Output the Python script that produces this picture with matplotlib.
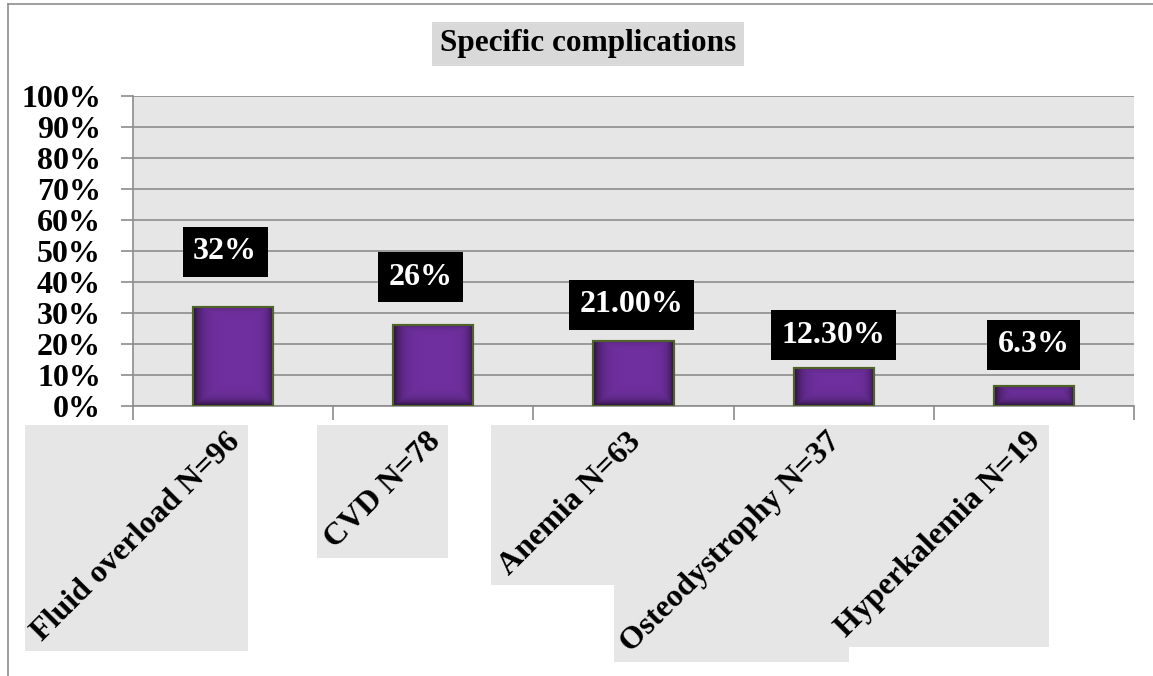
import matplotlib.pyplot as plt
import matplotlib.patches as mpatches
from matplotlib.lines import Line2D
import matplotlib.transforms as mtrans
import numpy as np

# Specific complications bar chart

categories = ['Fluid overload N=96', 'CVD N=78', 'Anemia N=63',
              'Osteodystrophy N=37', 'Hyperkalemia N=19']
values = [32, 26, 21.00, 12.30, 6.3]
value_labels = ['32%', '26%', '21.00%', '12.30%', '6.3%']
yticks = list(range(0, 101, 10))

# where the black value boxes sit (data units) -- style only
label_y = [49.7, 41.6, 32.6, 22.9, 19.7]
label_dx = [-0.04, -0.065, -0.01, 0.0, 0.0]

plt.rcParams['font.family'] = 'Liberation Serif'
plt.rcParams['font.weight'] = 'bold'
FS = 23

W, H = 1153, 676
fig = plt.figure(figsize=(W / 100, H / 100), dpi=100)
ax = fig.add_axes([133 / W, 1 - 406 / H, (1134 - 133) / W, (406 - 96) / H])

ax.set_facecolor('#e6e6e6')
ax.set_xlim(-0.5, len(values) - 0.5)
ax.set_ylim(0, 100)
x = np.arange(len(values))

# bars, with a dark inner shadow like the original
bars = ax.bar(x, values, width=0.4, color='#7030a0', edgecolor='#4f6228',
              linewidth=1.5, zorder=3)
base = np.array([112, 48, 160]) / 255.0
for b in bars:
    ny, nx = 120, 120
    xx = np.linspace(0, 1, nx)
    yy = np.linspace(0, 1, ny)
    X, Y = np.meshgrid(xx, yy)
    wpx = 80.0
    hpx = b.get_height() * 3.1
    dl = X * wpx
    dr = (1 - X) * wpx
    db = Y * hpx
    dt = (1 - Y) * hpx
    shade = np.maximum.reduce([np.exp(-dl / 7), np.exp(-dr / 5),
                               np.exp(-db / 5), 0.4 * np.exp(-dt / 3)])
    img = base[None, None, :] * (1 - 0.65 * shade[..., None])
    im = ax.imshow(img, extent=[b.get_x(), b.get_x() + b.get_width(), 0, b.get_height()],
                   origin='lower', aspect='auto', zorder=3.5)
    im.set_clip_path(b)
    ax.add_patch(mpatches.Rectangle((b.get_x(), 0), b.get_width(), b.get_height(),
                                    fill=False, edgecolor='#4f6228', linewidth=1.5, zorder=4))

# value labels
for i, (yv, t) in enumerate(zip(label_y, value_labels)):
    ax.text(x[i] + label_dx[i], yv, t, ha='center', va='center', color='white',
            fontsize=FS, fontweight='bold', zorder=5,
            bbox=dict(boxstyle='square,pad=0.33', facecolor='black', edgecolor='none'))

# axes styling
ax.set_yticks(yticks)
ax.set_yticklabels([f'{v}%' for v in yticks], fontsize=FS, fontweight='bold')
ax.yaxis.grid(True, color='#8c8c8c', linewidth=1.2, zorder=0)
ax.set_axisbelow(True)
ax.tick_params(axis='y', length=9, color='#8c8c8c', width=1.2, pad=14)
ax.set_xticks(np.arange(-0.5, len(values), 1.0))
ax.set_xticklabels([])
ax.tick_params(axis='x', length=10, color='#8c8c8c', width=1.2)
for s in ['top', 'right']:
    ax.spines[s].set_visible(False)
for s in ['left', 'bottom']:
    ax.spines[s].set_color('#8c8c8c')
    ax.spines[s].set_linewidth(1.2)

# rotated category labels with grey boxes
texts = []
for i, c in enumerate(categories):
    off = mtrans.offset_copy(ax.transData, fig=fig, x=13 / 100 * 72, y=-21 / 100 * 72, units='points')
    t = ax.text(x[i], 0, c, rotation=45, ha='right', va='top', fontsize=FS,
                fontweight='bold', transform=off, zorder=6)
    texts.append(t)

fig.canvas.draw()
r = fig.canvas.get_renderer()
for t in texts:
    bb = t.get_window_extent(r)
    pad = 2
    x0, y0 = fig.transFigure.inverted().transform((bb.x0 - pad, bb.y0 - pad - 2))
    x1, y1 = fig.transFigure.inverted().transform((bb.x1 + pad, bb.y1 + pad))
    fig.patches.append(mpatches.Rectangle((x0, y0), x1 - x0, y1 - y0,
                                          transform=fig.transFigure, facecolor='#e6e6e6',
                                          edgecolor='none', zorder=-1))

# title
fig.text(588 / W, 1 - 44 / H, 'Specific complications', ha='center', va='center',
         fontsize=22.5, fontweight='bold',
         bbox=dict(boxstyle='square,pad=0.25', facecolor='#d9d9d9', edgecolor='none'))

# outer frame
fig.add_artist(Line2D([8 / W, 1.0], [1 - 4 / H, 1 - 4 / H], transform=fig.transFigure,
                      color='#8c8c8c', linewidth=1.2))
fig.add_artist(Line2D([8 / W, 8 / W], [0, 1 - 4 / H], transform=fig.transFigure,
                      color='#8c8c8c', linewidth=1.2))

fig.savefig('out.png', dpi=100)
